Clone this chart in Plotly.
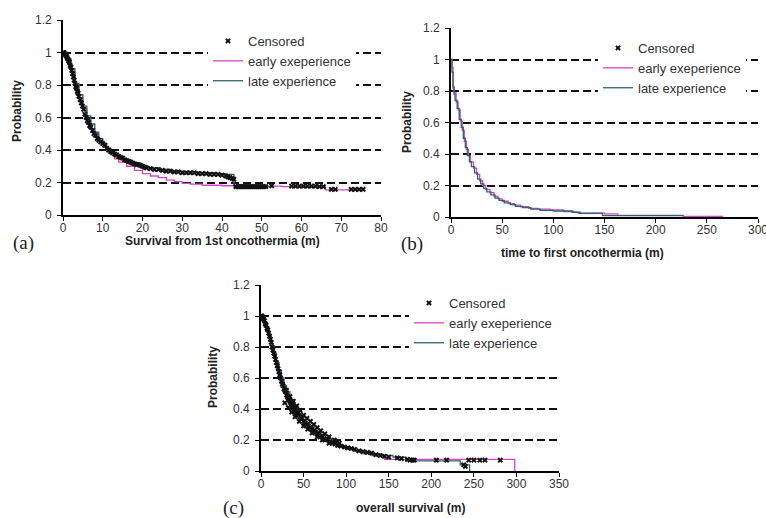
import plotly.graph_objects as go

W, H = 766, 518

# ---------------- Panel (a): Survival from 1st oncothermia ----------------
a_early_t = [0, 1, 2, 3, 4, 5, 6, 7, 8, 9, 10, 11, 12, 13, 14, 16, 18, 20, 22, 24, 26, 28, 30, 32, 35, 40, 45, 55, 66, 75.5]
a_early_s = [1.0, 0.95, 0.88, 0.80, 0.72, 0.65, 0.59, 0.53, 0.49, 0.45, 0.42, 0.39, 0.37, 0.345, 0.325, 0.30, 0.275, 0.255, 0.24, 0.23, 0.215, 0.205, 0.195, 0.19, 0.183, 0.18, 0.178, 0.175, 0.155, 0.155]

a_late_t = [0, 1, 2, 3, 4, 5, 6, 7, 8, 9, 10, 11, 12, 13, 14, 15, 17, 19, 21, 24, 27, 30, 34, 38, 41, 43, 53]
a_late_s = [1.0, 0.96, 0.90, 0.81, 0.74, 0.67, 0.61, 0.56, 0.51, 0.47, 0.44, 0.41, 0.39, 0.37, 0.355, 0.34, 0.32, 0.30, 0.29, 0.28, 0.27, 0.265, 0.26, 0.255, 0.25, 0.175, 0.175]

a_cens_t = [0, 0.2, 0.4, 0.6, 0.8, 1.0, 1.2, 1.4, 1.6, 1.8, 2.0, 2.2, 2.4, 2.6, 2.8, 3.0, 3.2, 3.4, 3.6, 3.8,
            4.0, 4.3, 4.6, 4.9, 5.2, 5.5, 5.8, 6.1, 6.4, 6.7, 7.0, 7.4, 7.8, 8.2, 8.6, 9.0, 9.5, 10, 10.5, 11,
            11.5, 12, 12.5, 13, 13.5, 14, 14.5, 15, 15.5, 16, 16.5, 17, 17.5, 18, 18.5, 19, 19.5, 20, 20.5, 21,
            22, 23, 24, 25, 26, 27, 28, 29, 30, 31, 32, 33, 34, 35, 36, 37, 38, 39, 40, 41, 41.5, 42, 42.5, 43,
            43.5, 44, 44.5, 45, 45.5, 46, 46.5, 47, 47.5, 48, 48.5, 49, 49.5, 50, 50.5, 51, 52.5,
            57.5, 58.5, 59.5, 60.5, 61.5, 62.5, 63.5, 64.5, 65.5, 67.5, 68.5, 72.5, 73.5, 74.5, 75.5]
a_cens_s = [1.0, 1.0, 0.99, 0.99, 0.98, 0.97, 0.96, 0.95, 0.94, 0.92, 0.91, 0.89, 0.87, 0.85, 0.83, 0.81, 0.79, 0.78, 0.76, 0.75,
            0.73, 0.71, 0.69, 0.67, 0.65, 0.62, 0.60, 0.58, 0.57, 0.55, 0.54, 0.52, 0.50, 0.49, 0.47, 0.46, 0.45, 0.44, 0.43, 0.41,
            0.40, 0.39, 0.385, 0.375, 0.37, 0.36, 0.355, 0.35, 0.34, 0.335, 0.33, 0.325, 0.32, 0.315, 0.31, 0.31, 0.305, 0.30, 0.295, 0.29,
            0.285, 0.28, 0.28, 0.275, 0.27, 0.27, 0.265, 0.265, 0.26, 0.26, 0.26, 0.26, 0.255, 0.255, 0.255, 0.25, 0.25, 0.25, 0.245, 0.24, 0.235, 0.23, 0.225, 0.22,
            0.175, 0.175, 0.175, 0.175, 0.175, 0.175, 0.175, 0.175, 0.175, 0.175, 0.175, 0.175, 0.175, 0.175, 0.175, 0.175, 0.18,
            0.178, 0.178, 0.178, 0.178, 0.178, 0.178, 0.178, 0.175, 0.175, 0.158, 0.158, 0.158, 0.158, 0.158, 0.158]

# ---------------- Panel (b): time to first oncothermia ----------------
b_early_t = [0, 1, 2, 3, 5, 7, 9, 11, 13, 15, 17, 19, 22, 25, 28, 31, 34, 38, 42, 46, 50, 56, 62, 68, 76, 85, 97, 110, 118, 124, 150, 163, 227, 266]
b_early_s = [1.0, 0.95, 0.83, 0.79, 0.73, 0.68, 0.61, 0.55, 0.48, 0.43, 0.39, 0.35, 0.31, 0.27, 0.23, 0.20, 0.175, 0.155, 0.13, 0.115, 0.10, 0.085, 0.075, 0.065, 0.055, 0.05, 0.045, 0.035, 0.03, 0.025, 0.02, 0.01, 0.004, 0.004]

b_late_t = [0, 1, 2, 3, 4, 6, 8, 10, 12, 14, 16, 18, 20, 23, 26, 29, 32, 35, 39, 43, 47, 52, 58, 63, 70, 78, 87, 100, 119, 126, 148, 227]
b_late_s = [1.0, 0.92, 0.82, 0.78, 0.74, 0.69, 0.62, 0.57, 0.50, 0.44, 0.39, 0.35, 0.32, 0.28, 0.24, 0.21, 0.18, 0.16, 0.14, 0.12, 0.105, 0.09, 0.078, 0.068, 0.06, 0.05, 0.042, 0.038, 0.03, 0.023, 0.009, 0.009]

# no censored marks are visible in panel (b); the legend entry is kept
b_cens_t = [None]
b_cens_s = [None]

# ---------------- Panel (c): overall survival ----------------
c_early_t = [0, 3, 6, 9, 12, 15, 18, 21, 24, 27, 30, 34, 38, 42, 46, 50, 55, 60, 66, 72, 80, 90, 100, 110, 120, 130, 145, 298]
c_early_s = [1.0, 0.95, 0.91, 0.86, 0.80, 0.74, 0.68, 0.63, 0.58, 0.53, 0.49, 0.44, 0.40, 0.36, 0.33, 0.30, 0.27, 0.25, 0.225, 0.20, 0.18, 0.155, 0.14, 0.125, 0.11, 0.10, 0.075, 0.0]

c_late_t = [0, 3, 6, 9, 12, 15, 18, 21, 24, 27, 30, 34, 38, 42, 46, 50, 55, 60, 66, 72, 80, 90, 100, 110, 120, 130, 140, 155, 170, 179, 234, 245]
c_late_s = [1.0, 0.96, 0.92, 0.87, 0.81, 0.76, 0.70, 0.65, 0.60, 0.55, 0.51, 0.46, 0.41, 0.37, 0.34, 0.31, 0.28, 0.26, 0.23, 0.21, 0.185, 0.16, 0.145, 0.13, 0.12, 0.11, 0.10, 0.09, 0.075, 0.065, 0.04, 0.0]

c_cens_t = [0, 1, 2, 3, 4, 5, 6, 7, 8, 9, 10, 11, 12, 13, 14, 15, 16, 17, 18, 19, 20, 21, 22, 23, 24, 25, 26, 27, 28, 29,
            30, 31, 32, 33, 34, 35, 36, 37, 38, 39, 40, 41, 42, 43, 44, 46, 48, 50, 52, 54, 56, 58, 60, 62, 64, 66, 68, 70,
            72, 74, 76, 78, 81, 84, 87, 90, 94, 98, 102, 106, 110, 115, 120, 125, 130, 135, 140, 145, 150, 160, 165, 172,
            175, 178, 180, 206, 218, 238, 240, 244, 250, 257, 263, 281,
            30, 34, 38, 42, 46, 50, 54, 58, 62, 66, 70, 75, 80, 86, 92,
            28, 32, 36, 40, 45, 50, 55, 60, 66, 72, 80]
c_cens_s = [1.0, 1.0, 0.99, 0.98, 0.97, 0.95, 0.94, 0.92, 0.91, 0.89, 0.87, 0.85, 0.83, 0.80, 0.78, 0.76, 0.74, 0.72, 0.70, 0.68,
            0.66, 0.64, 0.62, 0.60, 0.58, 0.56, 0.55, 0.53, 0.52, 0.51, 0.49, 0.48, 0.47, 0.46, 0.45, 0.44, 0.43, 0.42, 0.41, 0.40,
            0.39, 0.38, 0.375, 0.37, 0.36, 0.35, 0.34, 0.32, 0.31, 0.30, 0.29, 0.28, 0.27, 0.26, 0.25, 0.24, 0.235, 0.225,
            0.22, 0.21, 0.205, 0.20, 0.19, 0.18, 0.175, 0.165, 0.16, 0.155, 0.15, 0.145, 0.14, 0.13, 0.125, 0.12, 0.115, 0.105,
            0.10, 0.095, 0.09, 0.085, 0.08, 0.075, 0.07, 0.07, 0.07, 0.07, 0.07, 0.04, 0.03, 0.07, 0.07, 0.07, 0.07, 0.07,
            0.52, 0.48, 0.45, 0.42, 0.39, 0.36, 0.34, 0.32, 0.30, 0.28, 0.26, 0.24, 0.22, 0.20, 0.18,
            0.44, 0.41, 0.38, 0.35, 0.32, 0.29, 0.27, 0.245, 0.22, 0.20, 0.18]

names = ["Censored", "early exeperience", "late experience"]
EARLY_C = "#D444C4"
LATE_C = "#2E6464"
TICK_C = "#333333"
FONT = "Liberation Sans, Arial, sans-serif"

panels = [
    dict(ax="", leg="legend", early=(a_early_t, a_early_s), late=(a_late_t, a_late_s), cens=(a_cens_t, a_cens_s),
         xdom=(63, 381), ydom=(20, 215), xr=[0, 80], dt=10),
    dict(ax="2", leg="legend2", early=(b_early_t, b_early_s), late=(b_late_t, b_late_s), cens=(b_cens_t, b_cens_s),
         xdom=(451, 758), ydom=(28, 217), xr=[0, 300], dt=50),
    dict(ax="3", leg="legend3", early=(c_early_t, c_early_s), late=(c_late_t, c_late_s), cens=(c_cens_t, c_cens_s),
         xdom=(261, 559), ydom=(285, 471), xr=[0, 350], dt=50),
]

fig = go.Figure()
layout = {}
for p in panels:
    xa, ya = "x" + p["ax"], "y" + p["ax"]
    fig.add_trace(go.Scatter(x=p["early"][0], y=p["early"][1], mode="lines", line=dict(color=EARLY_C, width=1.3, shape="hv"),
                             name=names[1], xaxis=xa, yaxis=ya, legend=p["leg"], legendrank=2))
    fig.add_trace(go.Scatter(x=p["late"][0], y=p["late"][1], mode="lines", line=dict(color=LATE_C, width=1.3, shape="hv"),
                             name=names[2], xaxis=xa, yaxis=ya, legend=p["leg"], legendrank=3))
    fig.add_trace(go.Scatter(x=p["cens"][0], y=p["cens"][1], mode="markers",
                             marker=dict(symbol="x", size=5, color="#111111"),
                             name=names[0], xaxis=xa, yaxis=ya, legend=p["leg"], legendrank=1, showlegend=True))
    x0, x1 = p["xdom"]
    yt, yb = p["ydom"]
    layout["xaxis" + p["ax"]] = dict(
        domain=[x0 / W, x1 / W], anchor=ya, range=p["xr"], dtick=p["dt"], tick0=0, automargin=False,
        showline=True, linecolor="black", linewidth=1.6, ticks="outside", ticklen=4, tickcolor="black",
        ticklabelstandoff=-3, ticklabeloverflow="allow",
        showgrid=False, zeroline=False, tickfont=dict(family=FONT, size=12, color=TICK_C), fixedrange=True)
    layout["yaxis" + p["ax"]] = dict(
        domain=[1 - yb / H, 1 - yt / H], anchor=xa, range=[0, 1.2], dtick=0.2, tick0=0, automargin=False,
        showline=True, linecolor="black", linewidth=1.6, ticks="outside", ticklen=4, tickcolor="black",
        showgrid=True, gridcolor="#111111", gridwidth=1.5, griddash="8px,4px", zeroline=False,
        ticklabelstandoff=3, ticklabeloverflow="allow",
        tickfont=dict(family=FONT, size=12, color=TICK_C), fixedrange=True)

leg_common = dict(bgcolor="white", borderwidth=0, font=dict(family=FONT, size=13, color=TICK_C),
                  itemwidth=30, xanchor="left", yanchor="top", traceorder="normal")
layout["legend"] = dict(leg_common, x=208 / W, y=1 - 26 / H)
layout["legend2"] = dict(leg_common, x=598 / W, y=1 - 33 / H)
layout["legend3"] = dict(leg_common, x=409 / W, y=1 - 288 / H)

ann = []
def title(text, x, y, angle=0):
    ann.append(dict(text="<b>%s</b>" % text, x=x / W, y=1 - y / H, xref="paper", yref="paper", showarrow=False,
                    textangle=angle, xanchor="center", yanchor="middle",
                    font=dict(family=FONT, size=12, color="#222222")))

title("Survival from 1st oncothermia (m)", 222, 241)
title("time to first oncothermia (m)", 582, 253)
title("overall survival (m)", 410, 508)
title("Probability", 17, 111, -90)
title("Probability", 407, 122, -90)
title("Probability", 213, 377, -90)

for lab, x, y in [("(a)", 24, 243), ("(b)", 412, 244), ("(c)", 233, 508)]:
    ann.append(dict(text=lab, x=x / W, y=1 - y / H, xref="paper", yref="paper", showarrow=False,
                    xanchor="center", yanchor="middle",
                    font=dict(family="Liberation Serif, Times New Roman, serif", size=19, color="#222222")))

fig.update_layout(**layout)
fig.update_layout(width=W, height=H, margin=dict(l=0, r=0, t=0, b=0, autoexpand=False), paper_bgcolor="white",
                  plot_bgcolor="white", showlegend=True, annotations=ann)

fig.write_html("out.html", config={"displayModeBar": False})
